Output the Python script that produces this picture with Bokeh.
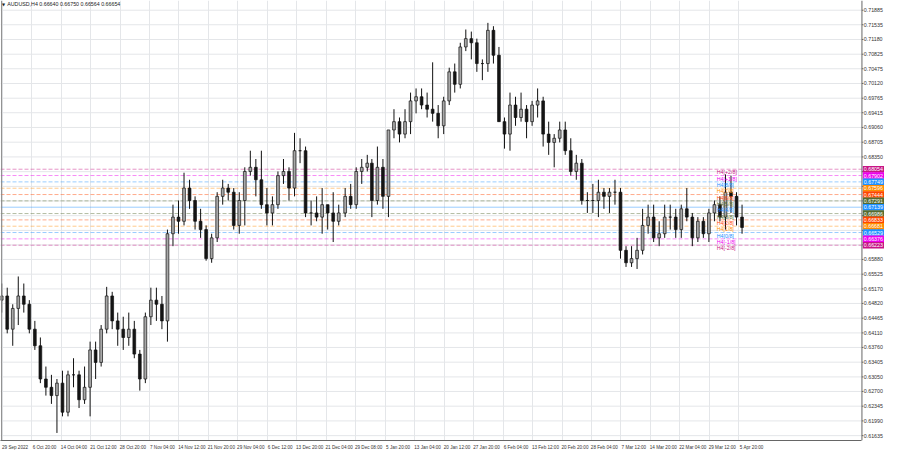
import numpy as np
from bokeh.plotting import figure
from bokeh.models import Range1d, FixedTicker, ColumnDataSource, Span
from bokeh.embed import file_html
from bokeh.resources import INLINE
from bokeh.core.properties import value

# ---- data (AUDUSD, H4 chart; candles shown per trading day) ----
dates = ["2022-09-29","2022-09-30","2022-10-03","2022-10-04","2022-10-05","2022-10-06","2022-10-07",
         "2022-10-10","2022-10-11","2022-10-12","2022-10-13","2022-10-14","2022-10-17","2022-10-18",
         "2022-10-19","2022-10-20","2022-10-21","2022-10-24","2022-10-25","2022-10-26","2022-10-27",
         "2022-10-28","2022-10-31","2022-11-01","2022-11-02","2022-11-03","2022-11-04","2022-11-07",
         "2022-11-08","2022-11-09","2022-11-10","2022-11-11","2022-11-14","2022-11-15","2022-11-16",
         "2022-11-17","2022-11-18","2022-11-21","2022-11-22","2022-11-23","2022-11-24","2022-11-25",
         "2022-11-28","2022-11-29","2022-11-30","2022-12-01","2022-12-02","2022-12-05","2022-12-06",
         "2022-12-07","2022-12-08","2022-12-09","2022-12-12","2022-12-13","2022-12-14","2022-12-15",
         "2022-12-16","2022-12-19","2022-12-20","2022-12-21","2022-12-22","2022-12-23","2022-12-27",
         "2022-12-28","2022-12-29","2022-12-30","2023-01-02","2023-01-03","2023-01-04","2023-01-05",
         "2023-01-06","2023-01-09","2023-01-10","2023-01-11","2023-01-12","2023-01-13","2023-01-16",
         "2023-01-17","2023-01-18","2023-01-19","2023-01-20","2023-01-23","2023-01-24","2023-01-25",
         "2023-01-26","2023-01-27","2023-01-30","2023-01-31","2023-02-01","2023-02-02","2023-02-03",
         "2023-02-06","2023-02-07","2023-02-08","2023-02-09","2023-02-10","2023-02-13","2023-02-14",
         "2023-02-15","2023-02-16","2023-02-17","2023-02-20","2023-02-21","2023-02-22","2023-02-23",
         "2023-02-24","2023-02-27","2023-02-28","2023-03-01","2023-03-02","2023-03-03","2023-03-06",
         "2023-03-07","2023-03-08","2023-03-09","2023-03-10","2023-03-13","2023-03-14","2023-03-15",
         "2023-03-16","2023-03-17","2023-03-20","2023-03-21","2023-03-22","2023-03-23","2023-03-24",
         "2023-03-27","2023-03-28","2023-03-29","2023-03-30","2023-03-31","2023-04-03","2023-04-04",
         "2023-04-05","2023-04-06"]
opens = [0.6490,0.6500,0.6420,0.6470,0.6500,0.6480,0.6420,0.6380,0.6300,0.6280,0.6260,0.6290,0.6220,0.6310,
         0.6310,0.6250,0.6280,0.6370,0.6340,0.6420,0.6500,0.6440,0.6420,0.6400,0.6420,0.6360,0.6300,0.6450,
         0.6490,0.6480,0.6440,0.6650,0.6690,0.6680,0.6760,0.6730,0.6680,0.6660,0.6590,0.6640,0.6740,0.6760,
         0.6750,0.6670,0.6730,0.6800,0.6810,0.6780,0.6720,0.6700,0.6720,0.6790,0.6800,0.6760,0.6850,0.6850,
         0.6700,0.6700,0.6690,0.6720,0.6700,0.6680,0.6700,0.6740,0.6720,0.6800,0.6810,0.6820,0.6730,0.6810,
         0.6740,0.6900,0.6920,0.6890,0.6920,0.6970,0.6980,0.6960,0.6950,0.6940,0.6910,0.6970,0.7040,0.7010,
         0.7100,0.7120,0.7110,0.7060,0.7060,0.7140,0.7080,0.6920,0.6890,0.6960,0.6930,0.6950,0.6920,0.6960,
         0.6970,0.6890,0.6870,0.6880,0.6900,0.6850,0.6800,0.6820,0.6730,0.6730,0.6730,0.6750,0.6740,0.6750,
         0.6750,0.6610,0.6580,0.6590,0.6610,0.6670,0.6690,0.6640,0.6650,0.6690,0.6690,0.6660,0.6710,0.6690,
         0.6640,0.6680,0.6650,0.6700,0.6720,0.6690,0.6750,0.6740,0.6690]
highs = [0.6530,0.6520,0.6480,0.6547,0.6530,0.6490,0.6440,0.6400,0.6330,0.6310,0.6300,0.6320,0.6320,0.6350,
         0.6320,0.6330,0.6390,0.6390,0.6430,0.6522,0.6510,0.6460,0.6450,0.6460,0.6440,0.6370,0.6460,0.6520,
         0.6520,0.6500,0.6660,0.6720,0.6730,0.6797,0.6780,0.6740,0.6710,0.6670,0.6650,0.6750,0.6780,0.6770,
         0.6760,0.6750,0.6810,0.6850,0.6830,0.6850,0.6760,0.6740,0.6800,0.6830,0.6810,0.6893,0.6880,0.6860,
         0.6730,0.6740,0.6760,0.6720,0.6750,0.6720,0.6760,0.6770,0.6810,0.6830,0.6840,0.6830,0.6860,0.6830,
         0.6900,0.6950,0.6930,0.6950,0.6990,0.7000,0.7000,0.6990,0.7063,0.6960,0.6980,0.7050,0.7060,0.7110,
         0.7142,0.7137,0.7120,0.7070,0.7158,0.7150,0.7100,0.6930,0.6990,0.6980,0.6990,0.6960,0.6970,0.7000,
         0.6980,0.6920,0.6890,0.6920,0.6920,0.6880,0.6840,0.6830,0.6750,0.6770,0.6780,0.6760,0.6760,0.6780,
         0.6760,0.6620,0.6620,0.6640,0.6710,0.6720,0.6720,0.6680,0.6720,0.6720,0.6710,0.6720,0.6760,0.6700,
         0.6690,0.6690,0.6710,0.6730,0.6740,0.6793,0.6790,0.6750,0.6720]
lows = [0.6460,0.6410,0.6380,0.6430,0.6460,0.6410,0.6370,0.6290,0.6260,0.6240,0.6170,0.6210,0.6210,0.6280,
        0.6230,0.6240,0.6210,0.6300,0.6330,0.6410,0.6420,0.6380,0.6370,0.6380,0.6350,0.6272,0.6290,0.6430,
        0.6440,0.6420,0.6390,0.6620,0.6650,0.6670,0.6710,0.6660,0.6640,0.6585,0.6580,0.6630,0.6720,0.6730,
        0.6660,0.6650,0.6670,0.6790,0.6740,0.6710,0.6670,0.6670,0.6710,0.6770,0.6730,0.6740,0.6820,0.6690,
        0.6670,0.6680,0.6650,0.6660,0.6630,0.6670,0.6690,0.6710,0.6710,0.6770,0.6800,0.6690,0.6720,0.6710,
        0.6690,0.6880,0.6870,0.6880,0.6890,0.6940,0.6950,0.6930,0.6920,0.6880,0.6890,0.6960,0.6990,0.7000,
        0.7090,0.7070,0.7040,0.7020,0.7040,0.7060,0.6920,0.6855,0.6850,0.6910,0.6920,0.6880,0.6910,0.6930,
        0.6860,0.6840,0.6810,0.6870,0.6840,0.6790,0.6780,0.6720,0.6700,0.6700,0.6690,0.6710,0.6700,0.6720,
        0.6590,0.6570,0.6570,0.6565,0.6600,0.6650,0.6630,0.6620,0.6640,0.6660,0.6640,0.6640,0.6680,0.6620,
        0.6630,0.6640,0.6630,0.6680,0.6680,0.6660,0.6700,0.6670,0.6650]
closes = [0.6500,0.6420,0.6470,0.6500,0.6480,0.6420,0.6380,0.6300,0.6280,0.6260,0.6290,0.6220,0.6310,0.6310,
          0.6250,0.6280,0.6370,0.6340,0.6420,0.6500,0.6440,0.6420,0.6400,0.6420,0.6360,0.6300,0.6450,0.6490,
          0.6480,0.6440,0.6650,0.6690,0.6680,0.6760,0.6730,0.6680,0.6660,0.6590,0.6640,0.6740,0.6760,0.6750,
          0.6670,0.6730,0.6800,0.6810,0.6780,0.6720,0.6700,0.6720,0.6790,0.6800,0.6760,0.6850,0.6850,0.6700,
          0.6700,0.6690,0.6720,0.6700,0.6680,0.6700,0.6740,0.6720,0.6800,0.6810,0.6820,0.6730,0.6810,0.6740,
          0.6900,0.6920,0.6890,0.6920,0.6970,0.6980,0.6960,0.6950,0.6940,0.6910,0.6970,0.7040,0.7010,0.7100,
          0.7120,0.7110,0.7060,0.7060,0.7140,0.7080,0.6920,0.6890,0.6960,0.6930,0.6950,0.6920,0.6960,0.6970,
          0.6890,0.6870,0.6880,0.6900,0.6850,0.6800,0.6820,0.6730,0.6730,0.6730,0.6750,0.6740,0.6750,0.6750,
          0.6610,0.6580,0.6590,0.6610,0.6670,0.6690,0.6640,0.6650,0.6690,0.6690,0.6660,0.6710,0.6690,0.6640,
          0.6680,0.6650,0.6700,0.6720,0.6690,0.6750,0.6740,0.6690,0.6665]

time_labels = ["29 Sep 2022","6 Oct 20:00","14 Oct 04:00","21 Oct 12:00","28 Oct 20:00","7 Nov 04:00",
               "14 Nov 12:00","21 Nov 20:00","29 Nov 04:00","6 Dec 12:00","13 Dec 20:00","21 Dec 04:00",
               "29 Dec 08:00","5 Jan 20:00","13 Jan 04:00","20 Jan 12:00","27 Jan 20:00","6 Feb 04:00",
               "13 Feb 12:00","20 Feb 20:00","28 Feb 04:00","7 Mar 12:00","14 Mar 20:00","22 Mar 04:00",
               "29 Mar 12:00","5 Apr 20:00"]
price_ticks = [0.71885,0.71535,0.71180,0.70825,0.70475,0.70120,0.69765,0.69415,0.69060,0.68705,0.68350,
               0.67995,0.67640,0.67290,0.66935,0.66580,0.66230,0.65880,0.65525,0.65170,0.64820,0.64465,
               0.64110,0.63760,0.63405,0.63050,0.62700,0.62345,0.61990,0.61635]

mm_names = ["H4[+2/8]","H4[+1/8]","H4[8/8]","H4[7/8]","H4[6/8]","H4[5/8]","H4[4/8]",
            "H4[3/8]","H4[2/8]","H4[1/8]","H4[0/8]","H4[-1/8]","H4[-2/8]"]
mm_levels = [0.68054,0.67902,0.67749,0.67596,0.67444,0.67291,0.67139,0.66986,0.66833,0.66681,0.66529,0.66376,0.66223]
mm_colors = ["#c71585","#ee00ee","#1e90ff","#ff8c00","#ff4500","#556b2f","#1e90ff",
             "#556b2f","#ff4500","#ff8c00","#1e90ff","#ee00ee","#c71585"]
title_text = "AUDUSD,H4  0.66640 0.66750 0.66564 0.66654"

# ---- bar positions (H4 bar index, 6 bars per trading day) ----
d = np.array(dates, dtype="datetime64[D]")
n = np.busday_count(np.datetime64("2022-09-29"), d)
missing = np.where(d >= np.datetime64("2023-01-03"), 6, np.where(d >= np.datetime64("2022-12-26"), 5, 0))
xc = n * 6 - 0.5 - missing
o = np.array(opens); h = np.array(highs); l = np.array(lows); c = np.array(closes)
fills = np.where(c >= o, "#a8a8a8", "#141414")

FONT = value("Liberation Sans")
x0, xsep, x1 = -1.8, 933.7, 958.2          # chart area | price scale column
y0, y1 = 0.61518, 0.72119
p = figure(width=884, height=452, x_range=Range1d(x0, x1), y_range=Range1d(y0, y1),
           output_backend="svg", toolbar_location=None,
           min_border_left=0, min_border_top=0, min_border_right=0, min_border_bottom=0)
p.yaxis.visible = False
p.background_fill_color = "white"
p.border_fill_color = "white"
p.outline_line_color = None

# time axis: grid at the bar positions, label text starting at each bar position
xt = [i * 32 for i in range(len(time_labels))]
label_shift = 14  # half a label's width, in bars, so the text begins at its bar
xt_lab = [t + label_shift for t in xt]
p.xaxis.ticker = FixedTicker(ticks=xt_lab)
p.xaxis.major_label_overrides = {t: s for t, s in zip(xt_lab, time_labels)}
p.xaxis.bounds = (x0, xsep)
ax = p.xaxis[0]
ax.major_label_text_font_size = "4.6px"
ax.major_label_text_font = "Liberation Sans"
ax.major_label_text_color = "#333333"
ax.axis_line_color = "#666666"
ax.major_tick_line_color = None
ax.major_tick_in = 0
ax.major_tick_out = 2
ax.minor_tick_line_color = None
ax.major_label_standoff = 2
p.xgrid.ticker = FixedTicker(ticks=xt)
p.xgrid.grid_line_color = "#e4e6e9"
p.ygrid.visible = False

# horizontal grid (chart area only)
p.segment(x0=[x0] * len(price_ticks), x1=[xsep] * len(price_ticks), y0=price_ticks, y1=price_ticks,
          line_color="#e4e6e9", line_width=1)

# Murrey math lines
dashed = [i for i, nm in enumerate(mm_names) if nm != "H4[4/8]"]
solid = [i for i, nm in enumerate(mm_names) if nm == "H4[4/8]"]
p.segment(x0=[x0] * len(dashed), x1=[xsep] * len(dashed), y0=[mm_levels[i] for i in dashed],
          y1=[mm_levels[i] for i in dashed], line_color=[mm_colors[i] for i in dashed],
          line_alpha=0.45, line_width=1, line_dash="4 2")
p.segment(x0=[x0] * len(solid), x1=[xsep] * len(solid), y0=[mm_levels[i] for i in solid],
          y1=[mm_levels[i] for i in solid], line_color=[mm_colors[i] for i in solid],
          line_alpha=0.45, line_width=1)

# candles
src = ColumnDataSource(dict(x=xc, high=h, low=l, top=np.maximum(o, c), bottom=np.minimum(o, c), fill=fills))
p.segment("x", "high", "x", "low", source=src, line_color="#111111", line_width=1)
p.vbar(x="x", width=3.0, top="top", bottom="bottom", source=src, fill_color="fill",
       line_color="#111111", line_width=0.7)

# level texts on chart
p.text(x=[776] * len(mm_levels), y=mm_levels, text=mm_names, text_color=mm_colors,
       text_font=FONT, text_font_size="5.3px", text_baseline="top", text_align="left")

# price scale column
p.add_layout(Span(location=xsep, dimension="height", line_color="#666666", line_width=1))
p.add_layout(Span(location=x0 + 1.2, dimension="height", line_color="#888888", line_width=1))
p.segment(x0=[xsep] * len(price_ticks), x1=[xsep + 1.6] * len(price_ticks), y0=price_ticks, y1=price_ticks,
          line_color="#666666", line_width=1)
p.text(x=[xsep + 2.0] * len(price_ticks), y=price_ticks, text=[f"{v:.5f}" for v in price_ticks],
       text_font=FONT, text_font_size="5.3px", text_baseline="middle", text_align="left", text_color="#333333")
p.rect(x=[(xsep + x1) / 2 + 0.3] * len(mm_levels), y=mm_levels, width=x1 - xsep - 1.2, height=6.6,
       height_units="screen", fill_color=mm_colors, line_color=None)
p.text(x=[xsep + 2.0] * len(mm_levels), y=mm_levels, text=[f"{v:.5f}" for v in mm_levels],
       text_font=FONT, text_font_size="5.3px", text_baseline="middle", text_align="left", text_color="white")

# title
p.text(x=[1.4], y=[0.72030], text=["\u25bc"], text_font=value("DejaVu Sans"), text_font_size="4px",
       text_baseline="middle", text_align="center", text_color="#222222")
p.text(x=[5.5], y=[0.72030], text=[title_text], text_font=FONT, text_font_size="5.3px",
       text_baseline="middle", text_align="left", text_color="#222222")

open("out.html", "w").write(file_html(p, INLINE))
